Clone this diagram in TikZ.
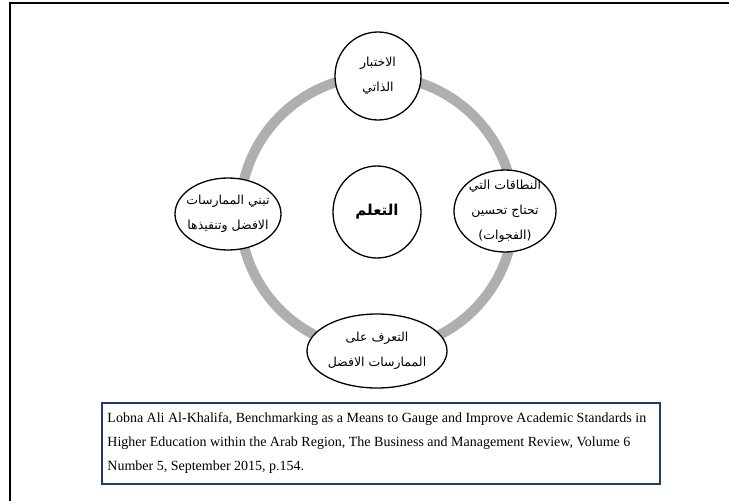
\documentclass[tikz,border=0pt]{standalone}
\usepackage{fontspec}
\setmainfont{Liberation Serif}
\newfontfamily\arabicfont[Script=Arabic]{DejaVu Sans}
\TeXXeTstate=1
\usetikzlibrary{shapes.geometric}
\definecolor{ringgray}{RGB}{175,175,175}
\definecolor{capblue}{RGB}{32,56,120}
% one right-to-left line of Arabic
\newcommand{\rl}[1]{\beginR #1\endR}

\begin{document}
\begin{tikzpicture}[x=1pt,y=-1pt,
  stage/.style={ellipse, draw=black, line width=1.3pt, fill=white,
    inner xsep=-14pt, inner ysep=-8pt,
    align=center, font=\arabicfont\fontsize{12.5}{25}\selectfont},
  hub/.style={stage, font=\arabicfont\bfseries\fontsize{15}{20}\selectfont},
  ring/.style={draw=ringgray, line width=10pt},
  capbox/.style={draw=capblue, line width=1.5pt, inner sep=0pt},
  captext/.style={align=left, inner sep=0pt, font=\fontsize{14}{24}\selectfont}
]
\useasboundingbox (0,0) rectangle (729,501);
\clip (0,0) rectangle (729,501);
\fill[white] (0,0) rectangle (729,501);
% page frame
\draw[line width=1.5pt] (10,3) rectangle (760,540);

% cycle ring
\coordinate (c) at (377,213);
\draw[ring] (c) circle[radius=137pt];

% stages of the cycle
\node[stage, minimum width=86pt, minimum height=88pt] (self) at (378,76)
  {\rl{الاختبار}\\\rl{الذاتي}};
\node[stage, minimum width=102pt, minimum height=82pt] (gaps) at (505,211)
  {\rl{النطاقات التي}\\\rl{تحتاج تحسين}\\\rl{(الفجوات)}};
\node[stage, minimum width=140pt, minimum height=74pt] (learn) at (377,351)
  {\rl{التعرف على}\\\rl{الممارسات الافضل}};
\node[stage, minimum width=106pt, minimum height=72pt] (adopt) at (228,214)
  {\rl{تبني الممارسات}\\\rl{الافضل وتنفيذها}};
\node[hub, minimum width=88pt, minimum height=92pt] (core) at (377,212)
  {\rl{التعلم}};

% source note
\node[capbox, minimum width=558pt, minimum height=81pt] (cap) at (381,443.5) {};
\node[captext, anchor=west] (src) at ([xshift=6pt]cap.west)
  {Lobna Ali Al-Khalifa, Benchmarking as a Means to Gauge and Improve Academic Standards in\\
   Higher Education within the Arab Region, The Business and Management Review, Volume 6\\
   Number 5, September 2015, p.154.};
\end{tikzpicture}
\end{document}
